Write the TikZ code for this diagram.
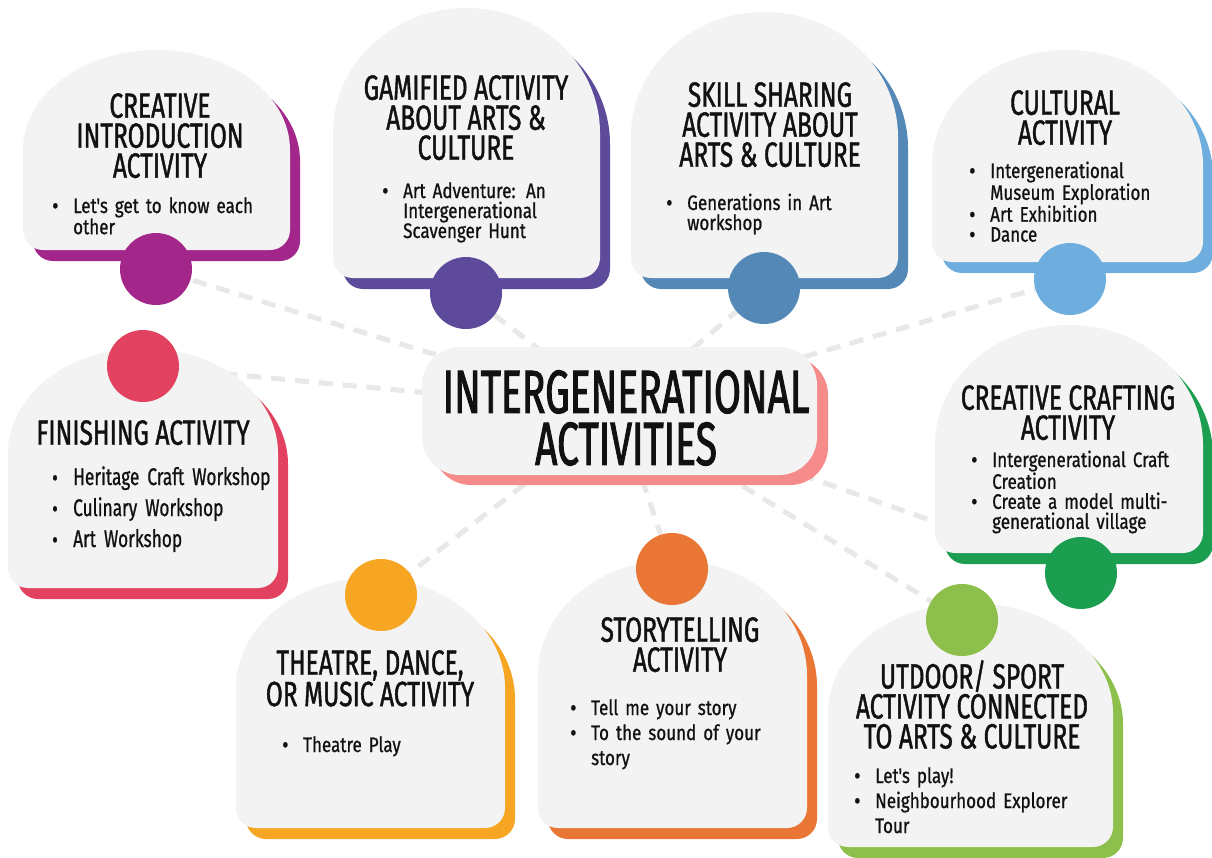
\documentclass[tikz,border=0pt]{standalone}
\usepackage{fontspec}
\setmainfont{Fira Sans}
\newfontfamily\headfont{Fira Sans}[FakeStretch=0.70,FakeBold=1.2]
\newfontfamily\bodyfont{Fira Sans}[FakeStretch=0.81,FakeBold=0.8]
\newfontfamily\bodyfontb{Fira Sans}[FakeStretch=0.72,FakeBold=0.8]
\newfontfamily\titlefont{Fira Sans}[FakeStretch=0.64,FakeBold=1.5]
\usetikzlibrary{shadows}
\definecolor{cardbg}{HTML}{F3F3F3}
\definecolor{connc}{HTML}{E8E8E8}
\definecolor{cMag}{HTML}{A3268A}
\definecolor{cPur}{HTML}{5E4A9B}
\definecolor{cSteel}{HTML}{5388B7}
\definecolor{cLblue}{HTML}{6DAEDE}
\definecolor{cGreen}{HTML}{1B9E50}
\definecolor{cRed}{HTML}{E24160}
\definecolor{cYel}{HTML}{F6A623}
\definecolor{cOra}{HTML}{EA7636}
\definecolor{cLgreen}{HTML}{8CBF4B}
\definecolor{cPink}{HTML}{F68B8B}
\definecolor{ink}{HTML}{111111}
\pgfdeclarelayer{bg}
\pgfdeclarelayer{lines}
\pgfsetlayers{bg,lines,main}
\newcommand\bul{\par\noindent\hangindent=21pt\hangafter=1\makebox[21pt][l]{\raisebox{-1pt}{\fontsize{24}{20}\selectfont\textbullet}}}
% x1 y1 x2 y2 Ry colour
\newcommand\card[6]{%
  \fill[#6,shift={(10,11)}] ({#1},{#4-20}) -- ({#1},{#2+#5})
    arc[start angle=180,end angle=270,x radius={(#3-#1)/2},y radius={#5}]
    arc[start angle=270,end angle=360,x radius={(#3-#1)/2},y radius={#5}]
    -- ({#3},{#4-20}) arc[start angle=0,end angle=90,radius=20]
    -- ({#1+20},{#4}) arc[start angle=90,end angle=180,radius=20] -- cycle;
  \fill[cardbg] ({#1},{#4-20}) -- ({#1},{#2+#5})
    arc[start angle=180,end angle=270,x radius={(#3-#1)/2},y radius={#5}]
    arc[start angle=270,end angle=360,x radius={(#3-#1)/2},y radius={#5}]
    -- ({#3},{#4-20}) arc[start angle=0,end angle=90,radius=20]
    -- ({#1+20},{#4}) arc[start angle=90,end angle=180,radius=20] -- cycle;
}
\begin{document}
\begin{tikzpicture}[x=1pt,y=-1pt,
  dot/.style={circle,minimum size=72pt,inner sep=0pt},
  head/.style={font={\headfont\fontsize{35}{30}\selectfont},align=center,inner sep=0pt,anchor=north,text=ink},
  body/.style={font={\bodyfont\fontsize{21}{20}\selectfont},align=left,inner sep=0pt,anchor=base west,text=ink},
  title/.style={font={\titlefont\fontsize{61}{52}\selectfont},align=center,inner sep=0pt,anchor=north,text=ink},
  conn/.style={connc,line width=5pt,dash pattern=on 14pt off 10pt}]
\begin{pgfonlayer}{bg}
\fill[white] (0,0) rectangle (1212,857);
\end{pgfonlayer}
\useasboundingbox (0,0) rectangle (1212,857);

\card{23}{50}{290}{250}{100}{cMag}
\card{333}{8}{600}{278}{125}{cPur}
\card{631}{12}{898}{278}{125}{cSteel}
\card{932}{50}{1203}{262}{115}{cLblue}
\card{935}{325}{1203}{553}{120}{cGreen}
\card{8}{348}{278}{588}{105}{cRed}
\card{236}{578}{505}{828}{110}{cYel}
\card{538}{560}{807}{828}{115}{cOra}
\card{828}{603}{1113}{847}{110}{cLgreen}

\node[fill=cardbg,rounded corners=38pt,minimum width=395pt,minimum height=128pt,inner sep=0pt,
  drop shadow={shadow xshift=11pt,shadow yshift=-10pt,fill=cPink,opacity=1}] (hub) at (619.5,411) {};

\node[dot,fill=cMag] (c1) at (156,269) {};
\node[dot,fill=cPur] (c2) at (466,293) {};
\node[dot,fill=cSteel] (c3) at (764,288) {};
\node[dot,fill=cLblue] (c4) at (1070,279) {};
\node[dot,fill=cGreen] (c5) at (1081,573) {};
\node[dot,fill=cRed] (c6) at (143,366) {};
\node[dot,fill=cYel] (c7) at (381,595) {};
\node[dot,fill=cOra] (c8) at (672,569) {};
\node[dot,fill=cLgreen] (c9) at (962,620) {};

\begin{pgfonlayer}{lines}
\foreach \c in {c1,c2,c3,c4,c5,c6,c7,c8,c9}
  \draw[conn] (hub.center) -- (\c.center);
\end{pgfonlayer}

\node[title] (t) at (626,370) {INTERGENERATIONAL\\ACTIVITIES};

\node[head] (h1) at (160,93) {CREATIVE\\INTRODUCTION\\ACTIVITY};
\node[head] (h2) at (466,75) {GAMIFIED ACTIVITY\\ABOUT ARTS \&\\CULTURE};
\node[head] (h3) at (770,82) {SKILL SHARING\\ACTIVITY ABOUT\\ARTS \& CULTURE};
\node[head] (h4) at (1065,90) {CULTURAL\\ACTIVITY};
\node[head] (h5) at (1068,385) {CREATIVE CRAFTING\\ACTIVITY};
\node[head] (h6) at (143,420) {FINISHING ACTIVITY};
\node[head] (h7) at (370,650) {THEATRE, DANCE,\\OR MUSIC ACTIVITY};
\node[head] (h8) at (680,617) {STORYTELLING\\ACTIVITY};
\node[head] (h9) at (972,660) {UTDOOR/ SPORT\\ACTIVITY CONNECTED\\TO ARTS \& CULTURE};

\node[body,text width=235pt] (b1) at (52,193) {\bul Let's get to know each\newline other\par};
\node[body,text width=215pt] (b2) at (382,178) {\bul Art Adventure: An\newline Intergenerational\newline Scavenger Hunt\par};
\node[body,text width=230pt] (b3) at (666,190) {\bul Generations in Art\newline workshop\par};
\node[body,text width=232pt] (b4) at (969,158) {\bul Intergenerational\newline Museum Exploration\bul Art Exhibition\bul Dance\par};
\node[body,text width=232pt] (b5) at (971,447) {\bul Intergenerational Craft\newline Creation\bul Create a model multi-\newline generational village\par};
\node[body,text width=226pt,font={\bodyfontb\fontsize{24}{31}\selectfont}] (b6) at (52,454) {\bul Heritage Craft Workshop\bul Culinary Workshop\bul Art Workshop\par};
\node[body,text width=220pt] (b7) at (282,732) {\bul Theatre Play\par};
\node[body,text width=235pt,font={\bodyfont\fontsize{21}{25}\selectfont}] (b8) at (570,690) {\bul Tell me your story\bul To the sound of your\newline story\par};
\node[body,text width=255pt,font={\bodyfont\fontsize{21}{25}\selectfont}] (b9) at (854,758) {\bul Let's play!\bul Neighbourhood Explorer\newline Tour\par};
\end{tikzpicture}
\end{document}
